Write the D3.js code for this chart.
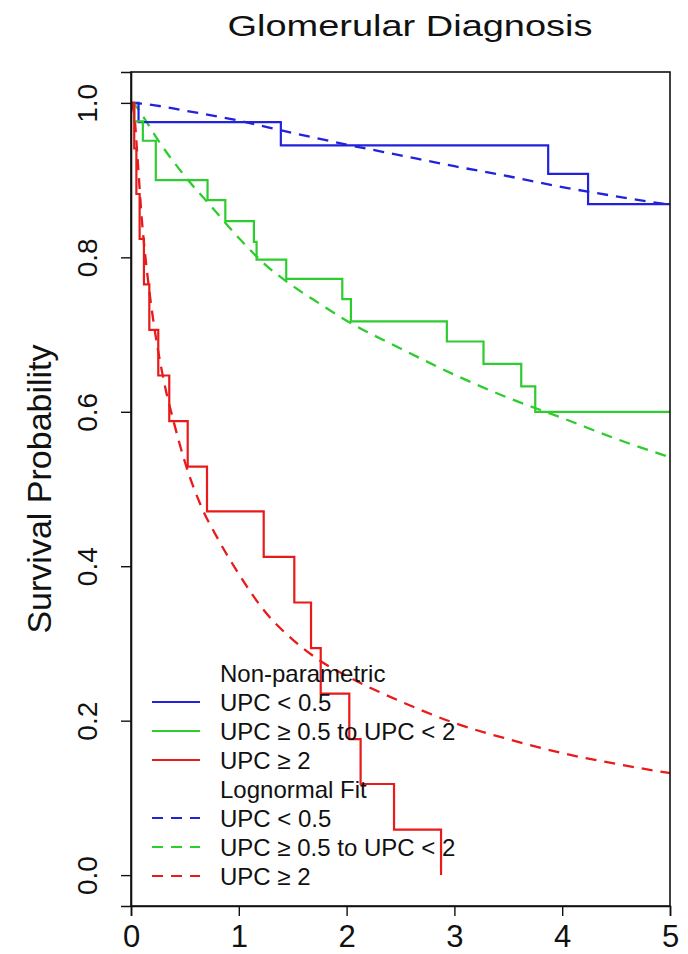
<!DOCTYPE html>
<html>
<head>
<meta charset="utf-8">
<script src="https://cdn.jsdelivr.net/npm/d3@7"></script>
<style>
  body { margin: 0; background: #fff; }
  text { font-family: "Liberation Sans", Arial, sans-serif; fill: #111; }
</style>
</head>
<body>
<div id="chart"></div>
<script>
// kaplan-meier step data (time in years, survival)
var kmTimesLow = [0, 0.07, 1.39, 3.87, 4.24];
var kmSurvLow = [1.0, 0.975, 0.945, 0.908, 0.869];

var kmTimesMid = [0, 0.03, 0.11, 0.23, 0.71, 0.875, 1.14, 1.165, 1.44, 1.96, 2.04, 2.93, 3.27, 3.62, 3.75];
var kmSurvMid = [1.0, 0.976, 0.951, 0.9, 0.874, 0.847, 0.82, 0.797, 0.772, 0.746, 0.717, 0.691, 0.662, 0.633, 0.6];

var kmTimesHigh = [0, 0.03, 0.05, 0.08, 0.12, 0.17, 0.253, 0.355, 0.526, 0.705, 1.231, 1.515, 1.67, 1.76, 2.025, 2.13, 2.44, 2.876];
var kmSurvHigh = [1.0, 0.941, 0.882, 0.824, 0.765, 0.706, 0.647, 0.588, 0.529, 0.471, 0.412, 0.353, 0.294, 0.235, 0.176, 0.118, 0.059, 0.0];

// lognormal fitted curves
var fitTimesLow = [0, 0.1, 0.5, 1, 1.5, 2, 2.5, 3, 3.5, 4, 4.5, 5];
var fitSurvLow = [1.0, 0.999, 0.99, 0.977, 0.961, 0.946, 0.932, 0.918, 0.905, 0.891, 0.879, 0.868];

var fitTimesMid = [0, 0.05, 0.1, 0.25, 0.5, 0.75, 1, 1.25, 1.5, 1.75, 2, 2.5, 3, 3.5, 4, 4.5, 5];
var fitSurvMid = [1.0, 0.995, 0.985, 0.952, 0.905, 0.865, 0.825, 0.79, 0.763, 0.74, 0.718, 0.682, 0.648, 0.618, 0.592, 0.565, 0.541];

var fitTimesHigh = [0, 0.03, 0.06, 0.1, 0.15, 0.2, 0.3, 0.4, 0.5, 0.65, 0.8, 1, 1.25, 1.5, 1.75, 2, 2.5, 3, 3.5, 4, 4.5, 5];
var fitSurvHigh = [1.0, 0.985, 0.93, 0.85, 0.78, 0.725, 0.643, 0.585, 0.535, 0.478, 0.437, 0.39, 0.34, 0.305, 0.278, 0.258, 0.225, 0.197, 0.176, 0.158, 0.144, 0.132];

var groupLabels = ["UPC < 0.5", "UPC \u2265 0.5 to UPC < 2", "UPC \u2265 2"];
var groupColors = ["#2222dd", "#2ecc2e", "#e81a1a"];
var xTicks = [0, 1, 2, 3, 4, 5];
var yTicks = [0.0, 0.2, 0.4, 0.6, 0.8, 1.0];

var width = 688,
  height = 954,
  plotLeft = 131,
  plotRight = 670,
  plotTop = 72,
  plotBottom = 906;

var svg = d3
  .select("#chart")
  .append("svg")
  .attr("width", width)
  .attr("height", height);

var x = d3.scaleLinear().domain([0, 5]).range([plotLeft, plotRight]);
var y = d3.scaleLinear().domain([-0.04, 1.04]).range([plotBottom, plotTop]);

function zip(ts, vs) {
  return ts.map(function(t, i) {
    return [t, vs[i]];
  });
}

//km curves run flat to the end of follow-up unless they hit zero
function stepPoints(ts, vs) {
  var pts = zip(ts, vs);
  if (vs[vs.length - 1] > 0) pts.push([5, vs[vs.length - 1]]);
  return pts;
}

svg
  .append("clipPath")
  .attr("id", "plotclip")
  .append("rect")
  .attr("x", plotLeft)
  .attr("y", plotTop)
  .attr("width", plotRight - plotLeft)
  .attr("height", plotBottom - plotTop);

var plot = svg.append("g").attr("clip-path", "url(#plotclip)");

var stepLine = d3
  .line()
  .x(function(d) { return x(d[0]); })
  .y(function(d) { return y(d[1]); })
  .curve(d3.curveStepAfter);

var fitLine = d3
  .line()
  .x(function(d) { return x(d[0]); })
  .y(function(d) { return y(d[1]); })
  .curve(d3.curveMonotoneX);

var kmSeries = [
  stepPoints(kmTimesLow, kmSurvLow),
  stepPoints(kmTimesMid, kmSurvMid),
  stepPoints(kmTimesHigh, kmSurvHigh)
];
var fitSeries = [
  zip(fitTimesLow, fitSurvLow),
  zip(fitTimesMid, fitSurvMid),
  zip(fitTimesHigh, fitSurvHigh)
];

//dashed lognormal fits
plot
  .selectAll(".fit")
  .data(fitSeries)
  .enter()
  .append("path")
  .attr("class", "fit")
  .attr("fill", "none")
  .attr("stroke", function(d, i) { return groupColors[i]; })
  .attr("stroke-width", 2.3)
  .attr("stroke-dasharray", "11,8")
  .attr("d", fitLine);

//solid non-parametric steps
plot
  .selectAll(".km")
  .data(kmSeries)
  .enter()
  .append("path")
  .attr("class", "km")
  .attr("fill", "none")
  .attr("stroke", function(d, i) { return groupColors[i]; })
  .attr("stroke-width", 2.2)
  .attr("d", stepLine);

//box around the plot
svg
  .append("rect")
  .attr("x", plotLeft)
  .attr("y", plotTop)
  .attr("width", plotRight - plotLeft)
  .attr("height", plotBottom - plotTop)
  .attr("fill", "none")
  .attr("stroke", "#111")
  .attr("stroke-width", 1.6);

//x axis
var xAxis = svg
  .append("g")
  .attr("transform", "translate(0," + plotBottom + ")")
  .call(d3.axisBottom(x).tickValues(xTicks).tickSize(10).tickFormat(d3.format("d")));
xAxis.select(".domain").attr("stroke", "#111").attr("stroke-width", 1.6);
xAxis.selectAll(".tick line").attr("stroke", "#111").attr("stroke-width", 1.4);
xAxis
  .selectAll(".tick text")
  .attr("y", 41)
  .attr("dy", null)
  .attr("font-size", "31px")
  .attr("font-family", "Liberation Sans, Arial, sans-serif")
  .attr("fill", "#111");

//y axis, labels turned like base R
var yAxis = svg
  .append("g")
  .attr("transform", "translate(" + plotLeft + ",0)")
  .call(d3.axisLeft(y).tickValues(yTicks).tickSize(10).tickFormat(d3.format(".1f")));
yAxis.select(".domain").attr("stroke", "#111").attr("stroke-width", 1.6);
yAxis.selectAll(".tick line").attr("stroke", "#111").attr("stroke-width", 1.4);
yAxis
  .selectAll(".tick text")
  .attr("x", null)
  .attr("dy", null)
  .attr("text-anchor", "middle")
  .attr("transform", "translate(-34,0) rotate(-90)")
  .attr("font-size", "28px")
  .attr("font-family", "Liberation Sans, Arial, sans-serif")
  .attr("fill", "#111");

//title
svg
  .append("text")
  .attr("x", 410)
  .attr("y", 36)
  .attr("text-anchor", "middle")
  .attr("font-size", "30px")
  .attr("textLength", 365)
  .attr("lengthAdjust", "spacingAndGlyphs")
  .text("Glomerular Diagnosis");

//y label
svg
  .append("text")
  .attr("transform", "translate(51," + (plotTop + plotBottom) / 2 + ") rotate(-90)")
  .attr("text-anchor", "middle")
  .attr("font-size", "34px")
  .text("Survival Probability");

//legend, no box
var legendRows = [
  { label: "Non-parametric", head: true },
  { label: groupLabels[0], color: groupColors[0], dash: null },
  { label: groupLabels[1], color: groupColors[1], dash: null },
  { label: groupLabels[2], color: groupColors[2], dash: null },
  { label: "Lognormal Fit", head: true },
  { label: groupLabels[0], color: groupColors[0], dash: "11,8" },
  { label: groupLabels[1], color: groupColors[1], dash: "11,8" },
  { label: groupLabels[2], color: groupColors[2], dash: "11,8" }
];

var legend = svg
  .append("g")
  .selectAll("g")
  .data(legendRows)
  .enter()
  .append("g")
  .attr("transform", function(d, i) {
    return "translate(0," + (673 + i * 29) + ")";
  });

legend
  .filter(function(d) { return !d.head; })
  .append("line")
  .attr("x1", 152)
  .attr("x2", 200)
  .attr("stroke", function(d) { return d.color; })
  .attr("stroke-width", 2.2)
  .attr("stroke-dasharray", function(d) { return d.dash; });

legend
  .append("text")
  .attr("x", 220)
  .attr("dy", "0.36em")
  .attr("font-size", "24px")
  .text(function(d) { return d.label; });
</script>
</body>
</html>
